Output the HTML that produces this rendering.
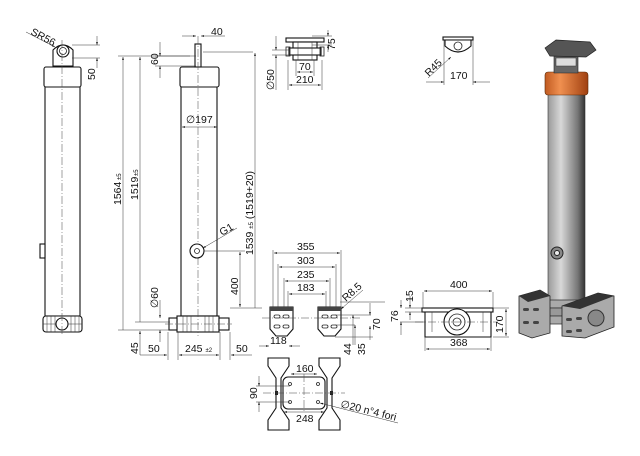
<!DOCTYPE html>
<html><head><meta charset="utf-8"><style>
html,body{margin:0;padding:0;background:#fff}
svg{display:block}
text{font-family:"Liberation Sans",sans-serif;font-size:10.5px;fill:#111}
.l{stroke:#222;stroke-width:0.8;fill:none}
.t{stroke:#333;stroke-width:0.5;fill:none}
.c{stroke:#444;stroke-width:0.5;fill:none;stroke-dasharray:8 2 1 2}
.b{stroke:#111;stroke-width:1.1;fill:#fff}
</style></head><body>
<svg width="640" height="456" viewBox="0 0 640 456" xmlns="http://www.w3.org/2000/svg">
<defs>
<marker id="a" viewBox="0 0 10 10" refX="10" refY="5" markerWidth="6" markerHeight="6" orient="auto-start-reverse"><path d="M0,2 L10,5 L0,8z" fill="#111"/></marker>
<linearGradient id="g" x1="0" x2="1"><stop offset="0" stop-color="#9a9a9a"/><stop offset="0.35" stop-color="#d8d8d8"/><stop offset="0.8" stop-color="#777"/><stop offset="1" stop-color="#333"/></linearGradient>
<linearGradient id="o" x1="0" x2="1"><stop offset="0" stop-color="#c05a20"/><stop offset="0.35" stop-color="#f09050"/><stop offset="1" stop-color="#a04010"/></linearGradient>
</defs>

<!-- LEFT VIEW -->
<rect class="b" x="45" y="86" width="35" height="230"/>
<rect class="b" x="44" y="67" width="37" height="20" rx="2"/>
<path class="b" d="M53,66 L53,50 Q63,40 73,50 L73,66z"/>
<circle class="b" cx="63" cy="51" r="6"/><circle class="l" cx="63" cy="51" r="3.5"/>
<rect class="b" x="40" y="244" width="5" height="14"/>
<rect class="b" x="43" y="316" width="39" height="16" rx="3"/>
<path class="t" d="M47,316v16M51,316v16M55,316v16M71,316v16M75,316v16M79,316v16M43,324h39"/>
<circle class="b" cx="62" cy="324" r="6"/>
<line class="c" x1="62" y1="40" x2="62" y2="336"/>
<line class="t" x1="72" y1="45" x2="100" y2="45"/><line class="t" x1="72" y1="58" x2="100" y2="58"/>
<line class="t" x1="97" y1="36" x2="97" y2="45" marker-end="url(#a)"/><line class="t" x1="97" y1="68" x2="97" y2="58" marker-end="url(#a)"/>
<text transform="translate(95,80) rotate(-90)">50</text>
<line class="t" x1="26" y1="32" x2="55" y2="47" marker-end="url(#a)"/>
<text transform="translate(30,34) rotate(28)">SR56</text>

<!-- MIDDLE VIEW -->
<rect class="b" x="181" y="86" width="36" height="230"/>
<rect class="b" x="180" y="67" width="39" height="20" rx="2"/>
<rect class="b" x="195" y="44" width="6" height="23"/>
<rect class="b" x="177" y="316" width="42" height="16"/>
<rect class="b" x="169" y="318" width="8" height="12"/><rect class="b" x="219" y="318" width="10" height="12"/>
<path class="t" d="M183,316v16M187,316v16M191,316v16M205,316v16M209,316v16M213,316v16"/>
<line class="c" x1="198" y1="36" x2="198" y2="336"/>
<line class="c" x1="165" y1="324" x2="232" y2="324"/>
<circle class="b" cx="197" cy="251" r="7"/><circle class="l" cx="197" cy="251" r="2.5"/>
<line class="t" x1="237" y1="228" x2="203" y2="248" marker-end="url(#a)"/>
<text transform="translate(222,236) rotate(-30)">G1</text>
<line class="t" x1="182" y1="127" x2="217" y2="127" marker-start="url(#a)" marker-end="url(#a)"/>
<text x="186" y="123">∅197</text>
<line class="t" x1="182" y1="36" x2="196" y2="36" marker-end="url(#a)"/><line class="t" x1="225" y1="36" x2="201" y2="36" marker-end="url(#a)"/>
<text x="211" y="35">40</text>
<line class="t" x1="155" y1="56" x2="196" y2="56"/><line class="t" x1="155" y1="66" x2="196" y2="66"/>
<line class="t" x1="160" y1="42" x2="160" y2="56" marker-end="url(#a)"/><line class="t" x1="160" y1="78" x2="160" y2="66" marker-end="url(#a)"/>
<text transform="translate(158,65) rotate(-90)">60</text>
<line class="t" x1="118" y1="56" x2="190" y2="56"/>
<line class="t" x1="123" y1="330" x2="123" y2="57" marker-end="url(#a)"/>
<text transform="translate(121,205) rotate(-90)">1564</text><text transform="translate(121,180) rotate(-90)" style="font-size:6px">±5</text>
<line class="t" x1="140" y1="322" x2="140" y2="57" marker-end="url(#a)"/>
<text transform="translate(138,200) rotate(-90)">1519</text><text transform="translate(138,176) rotate(-90)" style="font-size:6px">±5</text>
<line class="t" x1="118" y1="330" x2="170" y2="330"/><line class="t" x1="135" y1="322" x2="170" y2="322"/>
<line class="t" x1="140" y1="355" x2="140" y2="331" marker-end="url(#a)"/>
<text transform="translate(138,354) rotate(-90)">45</text>
<line class="t" x1="160" y1="300" x2="160" y2="318" marker-end="url(#a)"/><line class="t" x1="160" y1="342" x2="160" y2="330" marker-end="url(#a)"/>
<text transform="translate(158,308) rotate(-90)">∅60</text>
<line class="t" x1="253" y1="52" x2="203" y2="52"/>
<line class="t" x1="255" y1="308" x2="255" y2="53" marker-end="url(#a)"/>
<text transform="translate(253,255) rotate(-90)">1539 <tspan style="font-size:6px">±5</tspan> (1519+20)</text>
<line class="t" x1="204" y1="251" x2="245" y2="251"/><line class="t" x1="230" y1="308" x2="262" y2="308"/>
<line class="t" x1="240" y1="280" x2="240" y2="252" marker-end="url(#a)"/><line class="t" x1="240" y1="280" x2="240" y2="307" marker-end="url(#a)"/>
<text transform="translate(238,295) rotate(-90)">400</text>
<path class="t" d="M168,332v28M178,332v28M220,332v28M230,332v28"/>
<line class="t" x1="140" y1="355" x2="167" y2="355" marker-end="url(#a)"/><text x="148" y="352">50</text>
<line class="t" x1="199" y1="355" x2="179" y2="355" marker-end="url(#a)"/><line class="t" x1="199" y1="355" x2="219" y2="355" marker-end="url(#a)"/>
<text x="185" y="352">245 <tspan style="font-size:6px">±2</tspan></text>
<line class="t" x1="252" y1="355" x2="231" y2="355" marker-end="url(#a)"/><text x="236" y="352">50</text>

<!-- TOP SMALL VIEW -->
<rect class="b" x="286" y="38" width="38" height="4"/>
<rect class="b" x="293" y="42" width="24" height="18"/>
<rect class="b" x="289" y="48" width="32" height="7"/>
<rect class="l" x="286" y="47" width="4" height="9"/><rect class="l" x="320" y="47" width="4" height="9"/>
<path class="t" d="M298,42v18M312,42v18"/>
<line class="t" x1="272" y1="50" x2="290" y2="50"/><line class="t" x1="272" y1="55" x2="290" y2="55"/>
<line class="t" x1="276" y1="36" x2="276" y2="50" marker-end="url(#a)"/><line class="t" x1="276" y1="90" x2="276" y2="55" marker-end="url(#a)"/>
<text transform="translate(274,90) rotate(-90)">∅50</text>
<path class="t" d="M288,60v30M322,60v30M296,60v16M314,60v16M312,36h20M312,45h20"/>
<line class="t" x1="305" y1="72" x2="297" y2="72" marker-end="url(#a)"/><line class="t" x1="305" y1="72" x2="313" y2="72" marker-end="url(#a)"/>
<text x="299" y="70">70</text>
<line class="t" x1="305" y1="85" x2="289" y2="85" marker-end="url(#a)"/><line class="t" x1="305" y1="85" x2="321" y2="85" marker-end="url(#a)"/>
<text x="296" y="83">210</text>
<line class="t" x1="328" y1="30" x2="328" y2="36" marker-end="url(#a)"/><line class="t" x1="328" y1="52" x2="328" y2="45" marker-end="url(#a)"/>
<text transform="translate(335,50) rotate(-90)">75</text>

<!-- R45 VIEW -->
<rect class="b" x="443" y="37" width="30" height="3"/>
<path class="b" d="M445,40 L445,46 Q458,58 471,46 L471,40z"/>
<circle class="l" cx="458" cy="46" r="4"/>
<path class="t" d="M444,40v45M473,40v45"/>
<line class="t" x1="426" y1="82" x2="444" y2="82" marker-end="url(#a)"/><line class="t" x1="490" y1="82" x2="473" y2="82" marker-end="url(#a)"/>
<text x="450" y="79">170</text>
<line class="t" x1="428" y1="78" x2="451" y2="57" marker-end="url(#a)"/>
<text transform="translate(429,77) rotate(-45)">R45</text>

<!-- BRACKETS -->
<g id="br"><path class="b" d="M270,307 h23 v22 l-6,7 h-11 l-6,-7z"/>
<rect x="270" y="307" width="23" height="4" fill="#444"/>
<rect class="l" x="274" y="315" width="6" height="3" rx="1.5"/><rect class="l" x="283" y="315" width="6" height="3" rx="1.5"/>
<rect class="l" x="274" y="325" width="6" height="3" rx="1.5"/><rect class="l" x="283" y="325" width="6" height="3" rx="1.5"/></g>
<use href="#br" x="48"/>
<line class="c" x1="262" y1="318" x2="360" y2="318"/>
<path class="t" d="M273,250v57M341,250v57M278,264v43M336,264v43M284,278v29M330,278v29M288,291v16M326,291v16"/>
<line class="t" x1="307" y1="253" x2="274" y2="253" marker-end="url(#a)"/><line class="t" x1="307" y1="253" x2="340" y2="253" marker-end="url(#a)"/><text x="297" y="250">355</text>
<line class="t" x1="307" y1="267" x2="279" y2="267" marker-end="url(#a)"/><line class="t" x1="307" y1="267" x2="335" y2="267" marker-end="url(#a)"/><text x="297" y="264">303</text>
<line class="t" x1="307" y1="281" x2="285" y2="281" marker-end="url(#a)"/><line class="t" x1="307" y1="281" x2="329" y2="281" marker-end="url(#a)"/><text x="297" y="278">235</text>
<line class="t" x1="307" y1="294" x2="289" y2="294" marker-end="url(#a)"/><line class="t" x1="307" y1="294" x2="325" y2="294" marker-end="url(#a)"/><text x="297" y="291">183</text>
<line class="t" x1="363" y1="290" x2="341" y2="309" marker-end="url(#a)"/>
<text transform="translate(346,302) rotate(-42)">R8.5</text>
<path class="t" d="M335,315h36M335,325h20M335,337h38M340,302h45"/>
<line class="t" x1="353" y1="345" x2="353" y2="315" marker-end="url(#a)"/><line class="t" x1="355" y1="345" x2="355" y2="325" marker-end="url(#a)"/>
<text transform="translate(351,355) rotate(-90)">44</text><text transform="translate(365,355) rotate(-90)">35</text>
<line class="t" x1="370" y1="303" x2="370" y2="315" marker-end="url(#a)"/><line class="t" x1="370" y1="340" x2="370" y2="326" marker-end="url(#a)"/>
<text transform="translate(380,330) rotate(-90)">70</text>

<!-- PLAN VIEW -->
<path class="b" d="M268,358 h21 v8 l-8,12 v30 l8,12 v10 h-21 v-10 l8,-12 v-30 l-8,-12z"/>
<path class="b" d="M319,358 h21 v8 l-8,12 v30 l8,12 v10 h-21 v-10 l8,-12 v-30 l-8,-12z"/>
<rect class="b" x="283" y="377" width="42" height="32" rx="5"/>
<circle class="l" cx="290" cy="384" r="1.5"/><circle class="l" cx="318" cy="384" r="1.5"/><circle class="l" cx="290" cy="402" r="1.5"/><circle class="l" cx="318" cy="402" r="1.5"/>
<rect x="275" y="391" width="3" height="4" fill="#222"/><rect x="330" y="391" width="3" height="4" fill="#222"/>
<line class="c" x1="263" y1="393" x2="345" y2="393"/><line class="c" x1="304" y1="374" x2="304" y2="412"/>
<line class="t" x1="259" y1="346" x2="269" y2="346" marker-end="url(#a)"/><line class="t" x1="300" y1="346" x2="289" y2="346" marker-end="url(#a)"/><text x="270" y="344">118</text>
<line class="t" x1="304" y1="374" x2="291" y2="374" marker-end="url(#a)"/><line class="t" x1="304" y1="374" x2="317" y2="374" marker-end="url(#a)"/><text x="296" y="372">160</text>
<line class="t" x1="304" y1="412" x2="284" y2="412" marker-end="url(#a)"/><line class="t" x1="304" y1="412" x2="324" y2="412" marker-end="url(#a)"/><text x="296" y="422">248</text>
<path class="t" d="M256,386h34M256,402h34"/>
<line class="t" x1="259" y1="376" x2="259" y2="386" marker-end="url(#a)"/><line class="t" x1="259" y1="412" x2="259" y2="402" marker-end="url(#a)"/>
<text transform="translate(257,399) rotate(-90)">90</text>
<line class="t" x1="398" y1="423" x2="320" y2="403" marker-end="url(#a)"/>
<text transform="translate(340,407) rotate(14)">∅20 n°4 fori</text>

<!-- BASE FRONT VIEW -->
<rect class="b" x="422" y="308" width="71" height="4"/>
<path class="b" d="M425,312 h66 v25 h-66z"/>
<circle class="b" cx="457" cy="322" r="13"/><circle class="l" cx="457" cy="322" r="8"/><circle class="l" cx="457" cy="322" r="4"/>
<path class="t" d="M432,312v20M483,312v20M423,292v16M493,292v16M425,337v14M491,337v14"/>
<line class="c" x1="415" y1="322" x2="498" y2="322"/>
<line class="t" x1="457" y1="291" x2="424" y2="291" marker-end="url(#a)"/><line class="t" x1="457" y1="291" x2="492" y2="291" marker-end="url(#a)"/><text x="450" y="288">400</text>
<line class="t" x1="457" y1="349" x2="426" y2="349" marker-end="url(#a)"/><line class="t" x1="457" y1="349" x2="490" y2="349" marker-end="url(#a)"/><text x="450" y="346">368</text>
<path class="t" d="M405,308h18M405,312h18M400,322h25M493,308h16M493,337h16"/>
<line class="t" x1="410" y1="296" x2="410" y2="308" marker-end="url(#a)"/><line class="t" x1="410" y1="320" x2="410" y2="312" marker-end="url(#a)"/>
<text transform="translate(413,302) rotate(-90)">15</text>
<line class="t" x1="401" y1="300" x2="401" y2="308" marker-end="url(#a)"/><line class="t" x1="401" y1="335" x2="401" y2="322" marker-end="url(#a)"/>
<text transform="translate(398,322) rotate(-90)">76</text>
<line class="t" x1="506" y1="322" x2="506" y2="309" marker-end="url(#a)"/><line class="t" x1="506" y1="322" x2="506" y2="336" marker-end="url(#a)"/>
<text transform="translate(503,333) rotate(-90)">170</text>

<!-- 3D -->
<rect x="548" y="92" width="37" height="215" fill="url(#g)" stroke="#333" stroke-width="0.6"/>
<rect x="545" y="72" width="43" height="23" rx="3" fill="url(#o)" stroke="#5a2a08" stroke-width="0.6"/>
<path d="M554,56 h24 v17 h-24z" fill="#666" stroke="#222" stroke-width="0.6"/>
<path d="M545,48 L556,40 L590,42 L596,50 L586,57 L550,56z" fill="#555" stroke="#222" stroke-width="0.7"/>
<rect x="556" y="58" width="20" height="8" fill="#ddd" stroke="#333" stroke-width="0.5"/>
<circle cx="557" cy="253" r="6" fill="#888" stroke="#222"/><circle cx="557" cy="253" r="2.5" fill="#eee" stroke="#222"/>
<rect x="546" y="300" width="40" height="8" rx="3" fill="#aaa" stroke="#333" stroke-width="0.7"/>
<rect x="546" y="308" width="40" height="8" rx="3" fill="#999" stroke="#333" stroke-width="0.7"/>
<rect x="546" y="316" width="40" height="8" rx="3" fill="#aaa" stroke="#333" stroke-width="0.7"/>
<path d="M519,296 L540,290 L550,296 L550,333 L532,338 L519,333z" fill="#aaa" stroke="#222" stroke-width="0.8"/>
<path d="M519,296 L540,290 L550,296 L528,302z" fill="#333"/>
<path d="M562,306 L598,293 L614,296 L614,327 L585,338 L562,336z" fill="#aaa" stroke="#222" stroke-width="0.8"/>
<path d="M562,306 L598,293 L614,296 L580,309z" fill="#333"/>
<circle cx="596" cy="318" r="8" fill="#888" stroke="#333"/>
<g fill="#444"><rect x="523" y="308" width="6" height="3" rx="1.5"/><rect x="533" y="308" width="6" height="3" rx="1.5"/><rect x="523" y="321" width="6" height="3" rx="1.5"/><rect x="533" y="321" width="6" height="3" rx="1.5"/>
<rect x="566" y="318" width="6" height="3" rx="1.5"/><rect x="576" y="317" width="6" height="3" rx="1.5"/><rect x="566" y="330" width="6" height="3" rx="1.5"/><rect x="576" y="329" width="6" height="3" rx="1.5"/></g>
</svg>
</body></html>
